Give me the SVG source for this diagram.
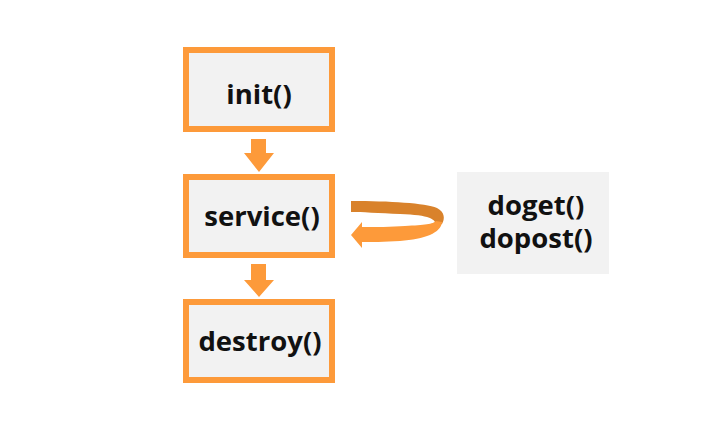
<svg xmlns="http://www.w3.org/2000/svg" width="718" height="441" viewBox="0 0 718 441">
<style>
.box{fill:#f2f2f2;stroke:#fd9a3a;stroke-width:6}
.t{font-family:"Open Sans","Noto Sans",sans-serif;font-weight:bold;font-size:27.5px;fill:#111;text-anchor:middle}
.arr{fill:#fd9a3a}
</style>
<rect width="718" height="441" fill="#ffffff"/>
<g id="init">
<rect class="box" x="186" y="50" width="146" height="79"/>
<text class="t" x="259" y="104">init()</text>
</g>
<g id="service">
<rect class="box" x="186" y="177" width="146" height="78"/>
<text class="t" x="262" y="226">service()</text>
</g>
<g id="destroy">
<rect class="box" x="186" y="302" width="146" height="78"/>
<text class="t" x="260" y="351">destroy()</text>
</g>
<g id="methods">
<rect x="457" y="172" width="152" height="102" fill="#f2f2f2"/>
<text class="t" x="536" y="215">doget()</text>
<text class="t" x="536" y="248">dopost()</text>
</g>
<g id="connectors">
<path class="arr" d="M251,139 H266 V153 H274 L259,172 L244,153 H251 Z"/>
<path class="arr" d="M251,264 H266 V280 H274 L259,297 L244,280 H251 Z"/>
<path fill="#d9822b" d="M351,201 C390,201 425,203 437,208 C445,212 445,219 442,224 L436,226 C436,219 430,215 400,214 C380,213 360,212 351,212 Z"/>
<path fill="#fd9a3a" d="M442,222 C441,233 425,239 400,241 C385,242 370,242 362,242 V248 L351,235 L362,222 V227 C375,227 392,227 405,226 C425,225 433,224 436,221 Z"/>
</g>
</svg>
